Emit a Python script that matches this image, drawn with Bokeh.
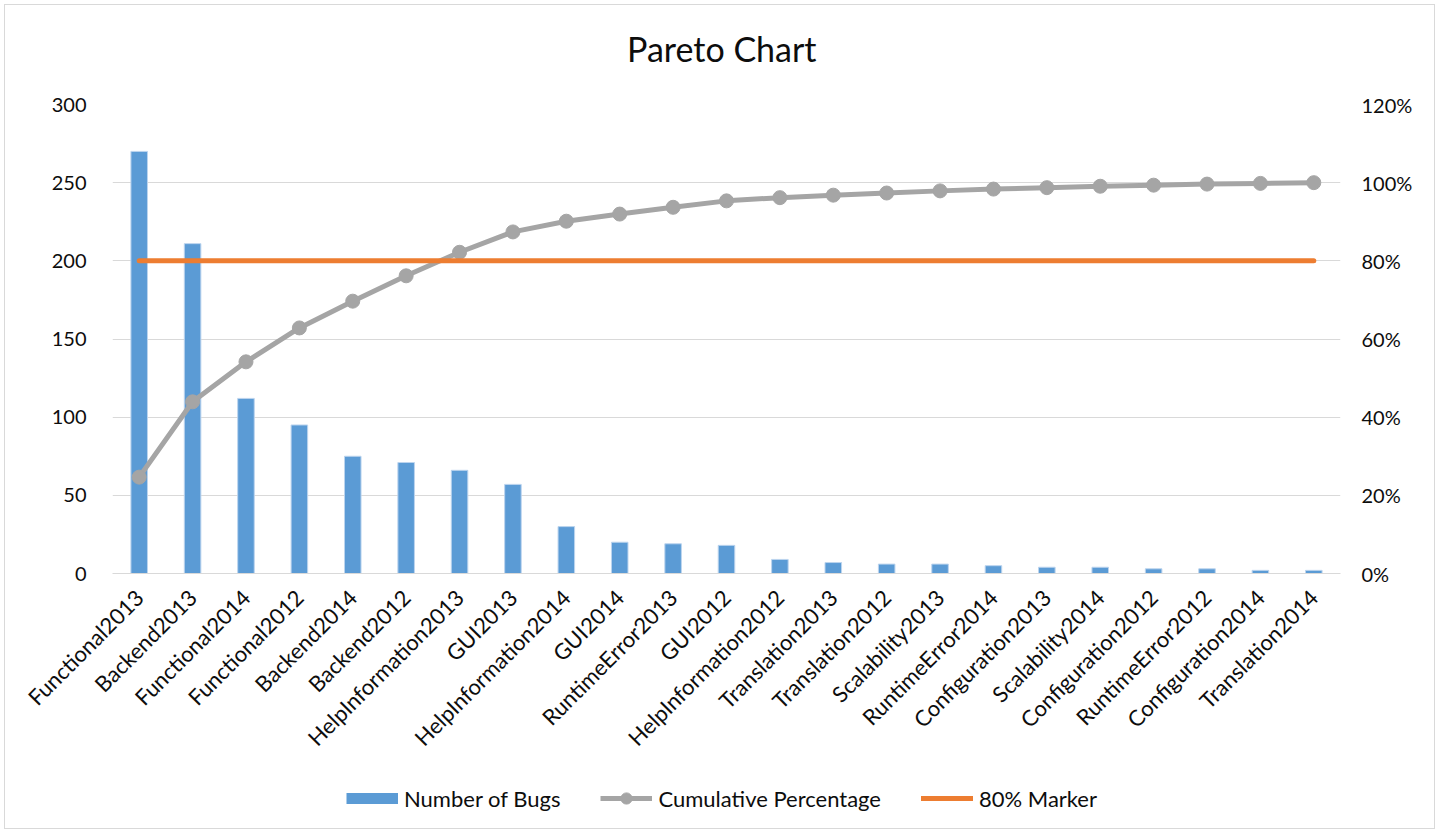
import math
import numpy as np
from bokeh.plotting import figure
from bokeh.layouts import column
from bokeh.core.properties import value
from bokeh.models import (ColumnDataSource, FactorRange, Range1d, LinearAxis,
                          FixedTicker, NumeralTickFormatter, Legend, LegendItem)
from bokeh.embed import file_html
from bokeh.resources import INLINE

# Bug counts per component and year, sorted in descending order
categories = [
    "Functional2013", "Backend2013", "Functional2014", "Functional2012",
    "Backend2014", "Backend2012", "HelpInformation2013", "GUI2013",
    "HelpInformation2014", "GUI2014", "RuntimeError2013", "GUI2012",
    "HelpInformation2012", "Translation2013", "Translation2012",
    "Scalability2013", "RuntimeError2014", "Configuration2013",
    "Scalability2014", "Configuration2012", "RuntimeError2012",
    "Configuration2014", "Translation2014",
]
bugs = [270, 211, 112, 95, 75, 71, 66, 57, 30, 20, 19, 18, 9, 7, 6, 6, 5, 4, 4, 3, 3, 2, 2]
marker_level = 0.8

left_ticks = [0, 50, 100, 150, 200, 250, 300]
right_ticks = [0.0, 0.2, 0.4, 0.6, 0.8, 1.0, 1.2]

title_text = "Pareto Chart"
series_names = ["Number of Bugs", "Cumulative Percentage", "80% Marker"]

cumulative = list(np.cumsum(bugs) / np.sum(bugs))

src = ColumnDataSource(data=dict(
    cat=categories,
    bugs=bugs,
    cum=cumulative,
    marker=[marker_level] * len(categories),
))

FONT = "Lato"
TEXT = "#0d0d0d"
GRID = "#d9d9d9"
BLUE = "#5b9bd5"
GREY = "#a5a5a5"
ORANGE = "#ed7d31"
W = 1429


def bare(fig):
    fig.outline_line_color = None
    fig.border_fill_color = "white"
    fig.background_fill_color = "white"
    fig.xgrid.visible = False
    fig.ygrid.visible = False
    return fig


# ---- header with the chart title ----
HEAD_H = 85
head = bare(figure(width=W, height=HEAD_H, x_range=Range1d(0, W), y_range=Range1d(0, HEAD_H),
                   x_axis_type=None, y_axis_type=None, min_border=0,
                   output_backend="svg", toolbar_location=None))
head.text(x=[709], y=[42], text=[title_text], text_font=value(FONT),
          text_font_size="34px", text_color=TEXT,
          text_align="center", text_baseline="middle")

# ---- main plot ----
MAIN_H = 685
p = figure(
    x_range=FactorRange(*categories, range_padding=0),
    y_range=Range1d(0, 300),
    width=W, height=MAIN_H,
    output_backend="svg", toolbar_location=None,
    min_border_left=107, min_border_right=94,
    min_border_top=14, min_border_bottom=202,
)
p.extra_y_ranges = {"pct": Range1d(0, 1.2)}
p.outline_line_color = None
p.background_fill_color = "white"
p.border_fill_color = "white"

p.yaxis.ticker = FixedTicker(ticks=left_ticks)
p.ygrid.ticker = FixedTicker(ticks=left_ticks)
p.ygrid.grid_line_color = GRID
p.xgrid.grid_line_color = None

right = LinearAxis(y_range_name="pct", ticker=FixedTicker(ticks=right_ticks),
                   formatter=NumeralTickFormatter(format="0%"))
p.add_layout(right, "right")

for ax, standoff in ((p.yaxis[0], 20), (right, 15)):
    ax.axis_line_color = None
    ax.major_tick_line_color = None
    ax.minor_tick_line_color = None
    ax.major_label_text_font = FONT
    ax.major_label_text_font_size = "20px"
    ax.major_label_text_color = TEXT
    ax.major_label_standoff = standoff

xa = p.xaxis[0]
xa.axis_line_color = GRID
xa.axis_line_width = 1
xa.major_tick_line_color = None
xa.minor_tick_line_color = None
xa.major_label_orientation = math.pi / 4
xa.major_label_text_font = FONT
xa.major_label_text_font_size = "22px"
xa.major_label_text_color = TEXT
xa.major_label_standoff = 14

p.vbar(x="cat", top="bugs", width=0.31, source=src,
       fill_color=BLUE, line_color="#bcd4ee", line_width=1)
p.line(x="cat", y="cum", y_range_name="pct", source=src,
       line_color=GREY, line_width=5)
p.scatter(x="cat", y="cum", y_range_name="pct", source=src,
          size=14, fill_color=GREY, line_color=GREY)
p.line(x="cat", y="marker", y_range_name="pct", source=src,
       line_color=ORANGE, line_width=5, line_cap="round")

# ---- legend strip under the plot ----
LEG_H = 53
leg = bare(figure(width=W, height=LEG_H, x_range=Range1d(0, 1), y_range=Range1d(0, 1),
                  x_axis_type=None, y_axis_type=None, min_border=0,
                  output_backend="svg", toolbar_location=None))
nan = float("nan")
k_bar = leg.line(x=[nan], y=[nan], line_color=BLUE, line_width=11)
k_cum_l = leg.line(x=[nan], y=[nan], line_color=GREY, line_width=5)
k_cum_p = leg.scatter(x=[nan], y=[nan], size=14, fill_color=GREY, line_color=GREY)
k_mark = leg.line(x=[nan], y=[nan], line_color=ORANGE, line_width=5, line_cap="round")

legend = Legend(
    items=[
        LegendItem(label=series_names[0], renderers=[k_bar]),
        LegendItem(label=series_names[1], renderers=[k_cum_l, k_cum_p]),
        LegendItem(label=series_names[2], renderers=[k_mark]),
    ],
    orientation="horizontal",
    location=(234, 16),
    label_text_font=FONT,
    label_text_font_size="22px",
    label_text_color=TEXT,
    glyph_width=52,
    glyph_height=28,
    label_standoff=6,
    spacing=40,
    border_line_color=None,
    background_fill_alpha=0,
    margin=0,
    padding=0,
)
leg.add_layout(legend, "center")

page = column(head, p, leg, spacing=0,
              styles={"border": "1px solid #d9d9d9", "margin-left": "4px", "margin-top": "4px"})

open("out.html", "w").write(file_html(page, INLINE))
